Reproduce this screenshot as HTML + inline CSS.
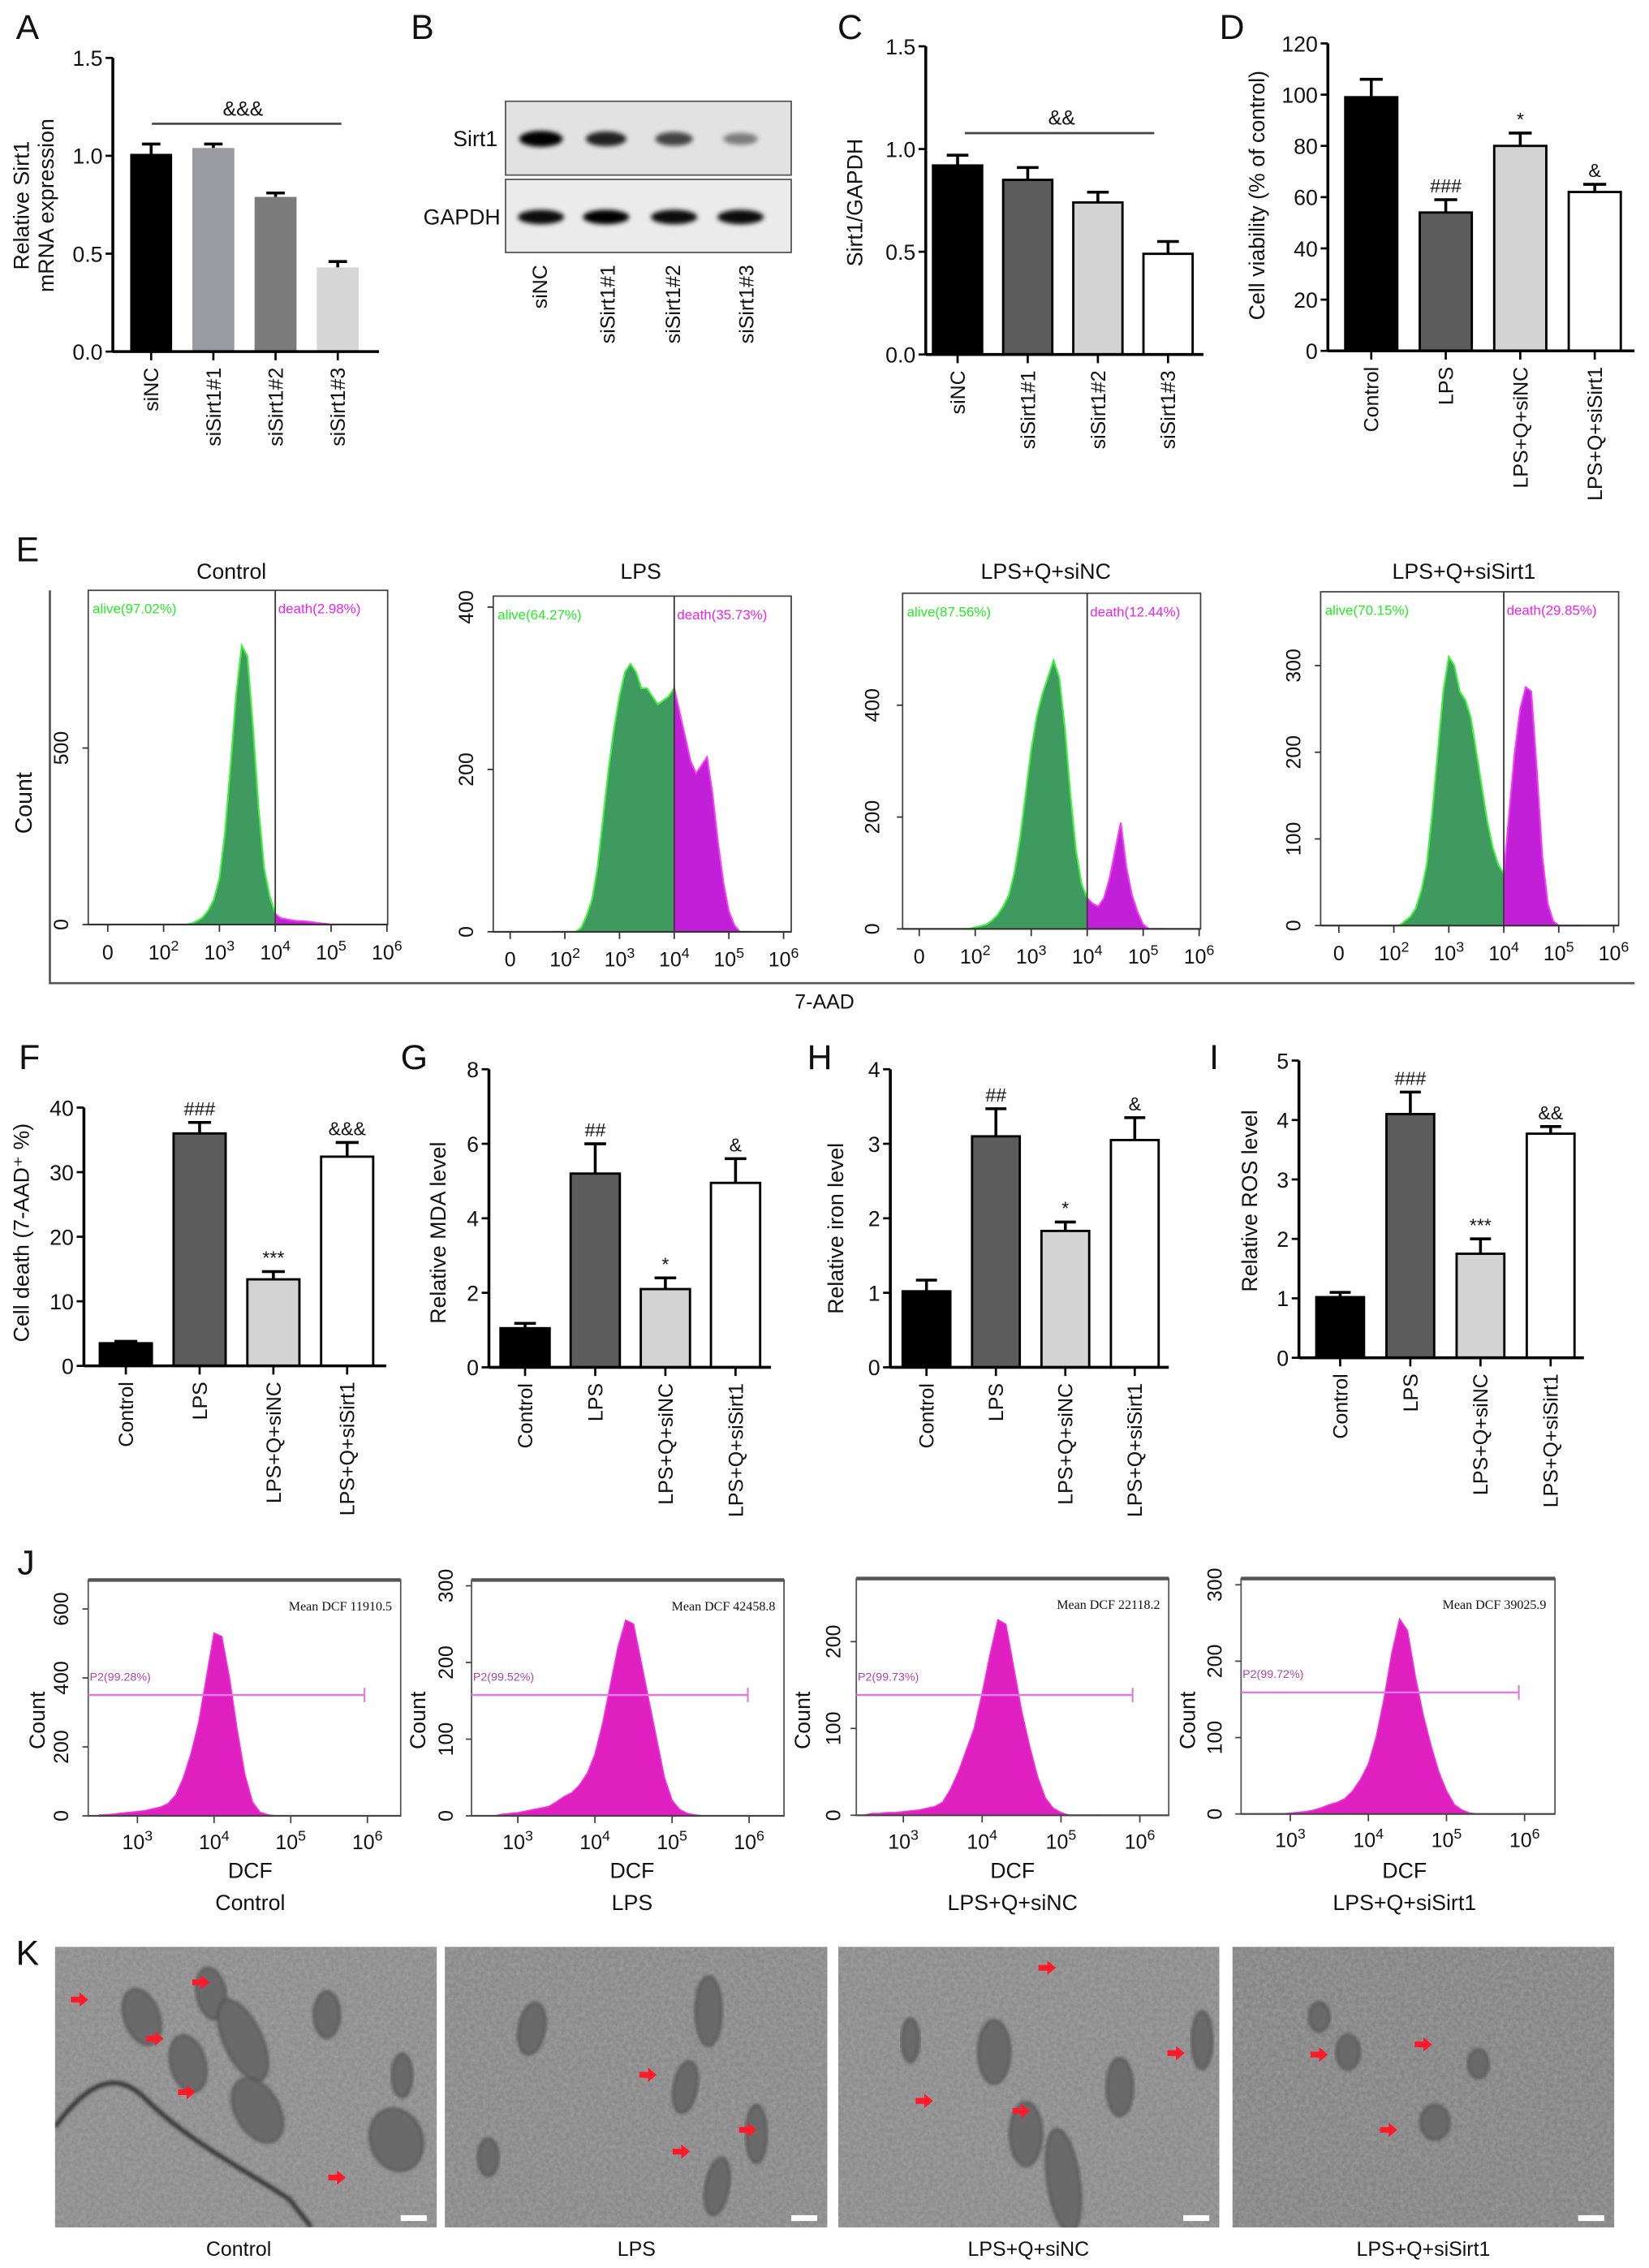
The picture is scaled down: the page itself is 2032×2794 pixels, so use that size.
<!DOCTYPE html>
<html><head><meta charset="utf-8">
<style>
html,body{margin:0;padding:0;background:#fff;}
svg{display:block;}
text{font-family:"Liberation Sans",sans-serif;fill:#111;}
.n{font-family:"Liberation Sans Narrow","Liberation Sans",sans-serif;}
.lt{font-size:24px;}
</style></head>
<body>
<svg id="fig" xmlns="http://www.w3.org/2000/svg" width="2032" height="2794" viewBox="0 0 1140 1567.5">
<defs>
<filter id="blur1" x="-30%" y="-80%" width="160%" height="260%"><feGaussianBlur stdDeviation="1.6"/></filter>
<filter id="noise" x="0" y="0" width="100%" height="100%">
<feTurbulence type="fractalNoise" baseFrequency="0.35" numOctaves="2" seed="3" result="t"/>
<feColorMatrix type="matrix" values="0 0 0 0 0.5  0 0 0 0 0.5  0 0 0 0 0.5  0 0 0 1.1 -0.25"/>
</filter>
<filter id="soft"><feGaussianBlur stdDeviation="1.2"/></filter>
<clipPath id="kc0"><rect x="38" y="1345.5" width="264" height="194"/></clipPath>
<clipPath id="kc1"><rect x="307.5" y="1345.5" width="264.5" height="194"/></clipPath>
<clipPath id="kc2"><rect x="579.5" y="1345.5" width="263.5" height="194"/></clipPath>
<clipPath id="kc3"><rect x="852" y="1345.5" width="264" height="194"/></clipPath>
</defs>
<rect width="1140" height="1567.5" fill="#fff"/>
<text class="lt" x="11" y="27">A</text>
<text class="lt" x="284" y="27">B</text>
<text class="lt" x="579" y="27">C</text>
<text class="lt" x="843" y="27">D</text>
<text class="lt" x="11" y="388">E</text>
<text class="lt" x="13" y="739">F</text>
<text class="lt" x="277" y="739">G</text>
<text class="lt" x="558" y="739">H</text>
<text class="lt" x="836" y="739">I</text>
<text class="lt" x="12" y="1088">J</text>
<text class="lt" x="11" y="1358">K</text>

<g>
<rect x="349.5" y="70" width="197.5" height="51" fill="#e2e2e2" stroke="#555" stroke-width="1"/>
<rect x="349.5" y="124" width="197.5" height="50.5" fill="#ebebeb" stroke="#555" stroke-width="1"/>
<text class="n" x="344" y="101" font-size="15" text-anchor="end">Sirt1</text>
<text class="n" x="346" y="155" font-size="15" text-anchor="end">GAPDH</text>
<g id="bands" filter="url(#blur1)"></g>
</g>

<path d="M34.5 408 V679.5 H1130" fill="none" stroke="#555" stroke-width="1.5"/>
<text x="22" y="555" font-size="16" text-anchor="middle" transform="rotate(-90 22 555)">Count</text>
<text x="570" y="697" font-size="14" text-anchor="middle">7-AAD</text>
<text x="160" y="400" font-size="15" class="n" text-anchor="middle">Control</text>
<text x="443" y="400" font-size="15" class="n" text-anchor="middle">LPS</text>
<text x="723" y="400" font-size="15" class="n" text-anchor="middle">LPS+Q+siNC</text>
<text x="1012" y="400" font-size="15" class="n" text-anchor="middle">LPS+Q+siSirt1</text>

<g>
<text x="173" y="1298" font-size="15" class="n" text-anchor="middle">DCF</text>
<text x="437" y="1298" font-size="15" class="n" text-anchor="middle">DCF</text>
<text x="700" y="1298" font-size="15" class="n" text-anchor="middle">DCF</text>
<text x="971" y="1298" font-size="15" class="n" text-anchor="middle">DCF</text>
<text x="173" y="1320" font-size="15" class="n" text-anchor="middle">Control</text>
<text x="437" y="1320" font-size="15" class="n" text-anchor="middle">LPS</text>
<text x="700" y="1320" font-size="15" class="n" text-anchor="middle">LPS+Q+siNC</text>
<text x="971" y="1320" font-size="15" class="n" text-anchor="middle">LPS+Q+siSirt1</text>
</g>

<g id="kimgs"></g>
<text x="165" y="1559" font-size="14" class="n" text-anchor="middle">Control</text>
<text x="440" y="1559" font-size="14" class="n" text-anchor="middle">LPS</text>
<text x="711" y="1559" font-size="14" class="n" text-anchor="middle">LPS+Q+siNC</text>
<text x="984" y="1559" font-size="14" class="n" text-anchor="middle">LPS+Q+siSirt1</text>
</svg>
<script>
const NS='http://www.w3.org/2000/svg';
const S=document.getElementById('fig');
function mk(tag,attrs,name,parent){
  const el=document.createElementNS(NS,tag);
  for(const k in attrs){el.setAttribute(k,attrs[k]);}
  
  
  (parent||S).appendChild(el);
  return el;
}

const catsSi=['siNC','siSirt1#1','siSirt1#2','siSirt1#3'];
const catsTreat=['Control','LPS','LPS+Q+siNC','LPS+Q+siSirt1'];

const aVals=[1.01,1.04,0.79,0.43];
const aErrs=[0.05,0.02,0.02,0.03];
const aSig=['','','',''];
const aTicks=[0,0.5,1.0,1.5];
const aTickLabels=['0.0','0.5','1.0','1.5'];

const cVals=[0.92,0.85,0.74,0.49];
const cErrs=[0.05,0.06,0.05,0.06];
const cSig=['','','',''];
const cTicks=[0,0.5,1.0,1.5];
const cTickLabels=['0.0','0.5','1.0','1.5'];

const dVals=[99,54,80,62];
const dErrs=[7,5,5,3];
const dSig=['','###','*','&'];
const dTicks=[0,20,40,60,80,100,120];
const dTickLabels=['0','20','40','60','80','100','120'];

const fVals=[3.5,36,13.4,32.4];
const fErrs=[0.3,1.7,1.2,2.2];
const fSig=['','###','***','&&&'];
const fTicks=[0,10,20,30,40];
const fTickLabels=['0','10','20','30','40'];

const gVals=[1.05,5.2,2.1,4.95];
const gErrs=[0.13,0.8,0.3,0.65];
const gSig=['','##','*','&'];
const gTicks=[0,2,4,6,8];
const gTickLabels=['0','2','4','6','8'];

const hVals=[1.02,3.1,1.83,3.05];
const hErrs=[0.15,0.37,0.12,0.3];
const hSig=['','##','*','&'];
const hTicks=[0,1,2,3,4];
const hTickLabels=['0','1','2','3','4'];

const iVals=[1.02,4.1,1.75,3.77];
const iErrs=[0.08,0.37,0.25,0.12];
const iSig=['','###','***','&&'];
const iTicks=[0,1,2,3,4,5];
const iTickLabels=['0','1','2','3','4','5'];

const colsA=['#000','#9a9aa3','#7b7b7b','#d6d6d6'];
const colsB=['#000','#5c5c5c','#d3d3d3','#fff'];

function barChart(id,L,cats,vals,errs,sig,ticks,tickLabels,cols,outline){
  const g=mk('g',{},id+'-chart');
  const ys=v=>L.y0-v/L.max*(L.y0-L.y1);
  mk('line',{x1:L.ax,y1:L.y0,x2:L.ax,y2:L.y1,stroke:'#000','stroke-width':2},id+'-y-axis',g);
  ticks.forEach((t,i)=>{
    const y=ys(t);
    mk('line',{x1:L.ax-5,y1:y,x2:L.ax,y2:y,stroke:'#000','stroke-width':1.5},id+'-y-tick',g);
    const tx=mk('text',{x:L.ax-7,y:y+5.5,'font-size':15,'text-anchor':'end',class:'n'},id+'-y-tick-label',g);
    tx.textContent=tickLabels[i];
  });
  vals.forEach((v,i)=>{
    const x=L.left+i*L.step, cx=x+L.w/2, yt=ys(v), ye=ys(v+errs[i]);
    mk('line',{x1:cx,y1:yt,x2:cx,y2:ye,stroke:'#000','stroke-width':2},id+'-error-bar',g);
    mk('line',{x1:cx-L.w*0.22,y1:ye,x2:cx+L.w*0.22,y2:ye,stroke:'#000','stroke-width':2},id+'-error-cap',g);
    mk('rect',{x:x,y:yt,width:L.w,height:L.y0-yt,fill:cols[i],stroke:outline?'#000':'none','stroke-width':1.6},id+'-bar-'+i,g);
    mk('line',{x1:cx,y1:L.y0,x2:cx,y2:L.y0+6,stroke:'#000','stroke-width':1.5},id+'-x-tick',g);
    const lx=cx+5, ly=L.y0+11;
    const t=mk('text',{x:lx,y:ly,'font-size':14,'text-anchor':'end',transform:'rotate(-90 '+lx+' '+ly+')'},id+'-x-label',g);
    t.textContent=cats[i];
    if(sig[i]){
      const s=mk('text',{x:cx,y:ye-5,'font-size':13,'text-anchor':'middle',class:'n',fill:'#333'},id+'-significance',g);
      s.textContent=sig[i];
    }
  });
  mk('line',{x1:L.ax,y1:L.y0,x2:L.xEnd,y2:L.y0,stroke:'#000','stroke-width':2},id+'-x-axis',g);
  const yt=mk('text',{x:L.tx,y:L.ty,'font-size':L.tfs||15,'text-anchor':'middle',transform:'rotate(-90 '+L.tx+' '+L.ty+')'},id+'-y-axis-title',g);
  L.title.forEach((line,k)=>{
    const ts=mk('tspan',{x:L.tx,dy:k?17:0},id+'-y-title-line',yt);
    ts.textContent=line;
  });
  return {g,ys};
}

const A=barChart('a',{ax:78,y0:243,y1:40,max:1.5,left:90,step:43,w:29,xEnd:262,tx:20,ty:142,title:['Relative Sirt1','mRNA expression']},catsSi,aVals,aErrs,aSig,aTicks,aTickLabels,colsA,false);
mk('line',{x1:105,y1:85.5,x2:236,y2:85.5,stroke:'#444','stroke-width':1.5},'a-significance-line',A.g);
const aS=mk('text',{x:168,y:80,'font-size':14,'text-anchor':'middle',class:'n'},'a-significance',A.g);
aS.textContent='&&&';

const C=barChart('c',{ax:640,y0:245,y1:32,max:1.5,left:645,step:48.5,w:34,xEnd:832,tx:596,ty:140,title:['Sirt1/GAPDH']},catsSi,cVals,cErrs,cSig,cTicks,cTickLabels,colsB,true);
mk('line',{x1:667,y1:92,x2:798,y2:92,stroke:'#444','stroke-width':1.5},'c-significance-line',C.g);
const cS=mk('text',{x:734,y:86,'font-size':14,'text-anchor':'middle',class:'n'},'c-significance',C.g);
cS.textContent='&&';

barChart('d',{ax:918,y0:242.5,y1:30,max:120,left:930,step:51.5,w:36,xEnd:1130,tx:874,ty:135,title:['Cell viability (% of control)']},catsTreat,dVals,dErrs,dSig,dTicks,dTickLabels,colsB,true);
barChart('f',{ax:58,y0:944,y1:765.5,max:40,left:69,step:51,w:36,xEnd:267,tx:20,ty:852,title:['Cell death (7-AAD⁺ %)']},catsTreat,fVals,fErrs,fSig,fTicks,fTickLabels,colsB,true);
barChart('g',{ax:338,y0:945,y1:739,max:8,left:346,step:48.5,w:34,xEnd:533,tx:308,ty:852,title:['Relative MDA level']},catsTreat,gVals,gErrs,gSig,gTicks,gTickLabels,colsB,true);
barChart('h',{ax:615.5,y0:945,y1:739,max:4,left:624,step:48,w:33,xEnd:808,tx:583,ty:849,title:['Relative iron level']},catsTreat,hVals,hErrs,hSig,hTicks,hTickLabels,colsB,true);
barChart('i',{ax:898,y0:938.4,y1:733,max:5,left:910,step:48.5,w:33,xEnd:1095,tx:869,ty:830,title:['Relative ROS level']},catsTreat,iVals,iErrs,iSig,iTicks,iTickLabels,colsB,true);

const blotLanes=['siNC','siSirt1#1','siSirt1#2','siSirt1#3'];
const sirt1Intensity=[1.0,0.85,0.7,0.45];
const gapdhIntensity=[0.95,1.0,0.95,0.95];
const laneX=[374,419,466,512];
const bandG=document.getElementById('bands');
blotLanes.forEach((ln,i)=>{
  mk('ellipse',{cx:laneX[i],cy:96,rx:15-i,ry:3+2.5*sirt1Intensity[i],fill:'#000','fill-opacity':sirt1Intensity[i]},'band-sirt1-'+i,bandG);
  mk('ellipse',{cx:laneX[i],cy:150,rx:16,ry:5,fill:'#000','fill-opacity':gapdhIntensity[i]},'band-gapdh-'+i,bandG);
  const lx=[378,425,470,521][i], ly=183;
  const t=mk('text',{x:lx,y:ly,'font-size':14,'text-anchor':'end',transform:'rotate(-90 '+lx+' '+ly+')'},'blot-lane-label',S);
  t.textContent=ln;
});

const eBins=[0.8,0.9,1.0,1.1,1.2,1.3,1.4,1.5,1.6,1.7,1.8,1.9,2.0,2.1,2.2,2.3,2.4,2.5,2.6,2.7,2.8,2.9,3.0,3.1,3.2,3.3,3.4,3.5,3.6,3.7,3.8,3.9,4.0,4.1,4.2,4.3,4.4];
const eControl=[0,0,0,0,0,0,0,3,10,20,40,70,130,260,450,650,790,760,560,330,160,80,30,18,15,12,10,10,8,6,4,2,0,0,0,0,0];
const eLPS=[0,0,0,0,0,5,20,40,80,140,200,250,290,320,330,320,300,300,290,280,285,290,300,270,240,210,195,205,215,170,110,60,25,8,0,0,0];
const eSiNC=[0,0,3,5,8,15,25,40,60,100,160,240,320,380,420,450,480,450,360,240,140,80,55,45,40,55,90,140,190,110,60,30,8,0,0,0,0];
const eSiSirt1=[0,0,0,0,5,10,20,40,70,130,200,270,310,300,270,260,240,200,160,120,90,70,60,130,200,250,275,270,180,80,25,5,0,0,0,0,0];
const eAlive=['alive(97.02%)','alive(64.27%)','alive(87.56%)','alive(70.15%)'];
const eDeath=['death(2.98%)','death(35.73%)','death(12.44%)','death(29.85%)'];
const eXTickVals=[0,1,2,3,4,5];
const eXTickExp=['','2','3','4','5','6'];
const eYTicks=[[0,500],[0,200,400],[0,200,400],[0,100,200,300]];
const eGate=3.0;
const eLayout=[
 {bl:61,br:268,bt:408,bb:644,z:639,x0:74.5,dx:38.6,py:0.244,lx:47},
 {bl:341,br:547,bt:412,bb:646,z:644,x0:352.7,dx:37.8,py:0.561,lx:327},
 {bl:624,br:830,bt:410,bb:645,z:642,x0:635.5,dx:38.7,py:0.3865,lx:608},
 {bl:913,br:1119,bt:409,bb:642,z:639.7,x0:925.6,dx:38,py:0.599,lx:899}];
[eControl,eLPS,eSiNC,eSiSirt1].forEach((counts,k)=>{
  const L=eLayout[k];
  const g=mk('g',{},'e-histogram-'+k);
  const xs=u=>L.x0+u*L.dx, ys=c=>L.z-c*L.py;
  mk('rect',{x:L.bl,y:L.bt,width:L.br-L.bl,height:L.z-L.bt,fill:'#fff',stroke:'#444','stroke-width':1},'e-plot-box',g);
  let gp='M'+xs(eBins[0])+' '+L.z, mp='M'+xs(eGate)+' '+L.z;
  eBins.forEach((b,i)=>{
    if(b<=eGate+1e-9) gp+=' L'+xs(b)+' '+ys(counts[i]);
    if(b>=eGate-1e-9) mp+=' L'+xs(b)+' '+ys(counts[i]);
  });
  gp+=' L'+xs(eGate)+' '+L.z+' Z';
  mp+=' L'+xs(eBins[eBins.length-1])+' '+L.z+' Z';
  mk('path',{d:gp,fill:'#3f9a5f',stroke:'#3cf03c','stroke-width':1.2},'e-alive-area',g);
  mk('path',{d:mp,fill:'#c21fd8',stroke:'#f23cf2','stroke-width':1.2},'e-death-area',g);
  mk('line',{x1:xs(eGate),y1:L.bt,x2:xs(eGate),y2:L.z,stroke:'#333','stroke-width':1},'e-gate-line',g);
  mk('line',{x1:L.bl,y1:L.z,x2:L.br,y2:L.z,stroke:'#333','stroke-width':1.2},'e-x-axis',g);
  eXTickVals.forEach((u,i)=>{
    mk('line',{x1:xs(u),y1:L.z,x2:xs(u),y2:L.z+5,stroke:'#333','stroke-width':1},'e-x-tick',g);
    const t=mk('text',{x:xs(u),y:L.z+24,'font-size':14,'text-anchor':'middle',class:'n'},'e-x-tick-label',g);
    if(eXTickExp[i]){t.textContent='10';const sp=mk('tspan',{dy:-6,'font-size':10},'e-x-tick-exp',t);sp.textContent=eXTickExp[i];}
    else t.textContent='0';
  });
  eYTicks[k].forEach(v=>{
    const y=ys(v);
    mk('line',{x1:L.bl-4,y1:y,x2:L.bl,y2:y,stroke:'#333','stroke-width':1},'e-y-tick',g);
    const t=mk('text',{x:L.lx,y:y,'font-size':14,'text-anchor':'middle',transform:'rotate(-90 '+L.lx+' '+y+')'},'e-y-tick-label',g);
    t.textContent=String(v);
  });
  const a=mk('text',{x:L.bl+3,y:L.bt+16,'font-size':9.5,class:'n'},'e-alive-label',g);
  a.textContent=eAlive[k];
  a.style.fill='#22ee22';
  const d=mk('text',{x:xs(eGate)+2,y:L.bt+16,'font-size':9.5,class:'n'},'e-death-label',g);
  d.textContent=eDeath[k];
  d.style.fill='#ee22ee';
});

const jBins=[2.5,2.6,2.7,2.8,2.9,3.0,3.1,3.2,3.3,3.4,3.5,3.6,3.7,3.8,3.9,4.0,4.1,4.2,4.3,4.4,4.5,4.6,4.7,4.8,4.9,5.0,5.1,5.2,5.3,5.4,5.5];
const jControl=[2,3,5,8,10,12,15,20,25,35,60,110,180,270,400,530,520,400,250,120,40,10,3,0,0,0,0,0,0,0,0];
const jLPS=[0,0,0,2,3,4,6,8,10,12,18,25,30,40,55,80,120,170,220,255,250,200,150,100,50,20,8,3,1,0,0];
const jSiNC=[0,2,2,3,3,4,5,6,8,10,15,30,50,75,100,140,185,225,220,170,120,80,45,20,8,3,0,0,0,0,0];
const jSiSirt1=[0,0,0,0,0,1,2,3,5,8,12,15,20,30,45,65,100,150,210,255,240,180,130,90,55,30,12,5,1,0,0];
const jMean=['Mean DCF 11910.5','Mean DCF 42458.8','Mean DCF 22118.2','Mean DCF 39025.9'];
const jGateLbl=['P2(99.28%)','P2(99.52%)','P2(99.73%)','P2(99.72%)'];
const jXTicks=[3,4,5,6];
const jYTicks=[[0,200,400,600],[0,100,200,300],[0,100,200],[0,100,200,300]];
const jLayout=[
 {bl:61,br:277,bt:1092,z:1255,x3:95,dx:53,py:0.2383,gy:1171.5,gr:252,lx:47,cx:31},
 {bl:326,br:542,bt:1092,z:1255,x3:358,dx:53.3,py:0.53,gy:1171.5,gr:517,lx:313,cx:294},
 {bl:592,br:808,bt:1091,z:1254.6,x3:624.5,dx:54.5,py:0.6,gy:1171.5,gr:783,lx:581,cx:560},
 {bl:858,br:1075,bt:1091,z:1253.7,x3:892,dx:54,py:0.528,gy:1169.7,gr:1050,lx:844.5,cx:826}];
[jControl,jLPS,jSiNC,jSiSirt1].forEach((counts,k)=>{
  const L=jLayout[k];
  const g=mk('g',{},'j-histogram-'+k);
  const xs=v=>L.x3+(v-3)*L.dx, ys=c=>L.z-c*L.py;
  mk('rect',{x:L.bl,y:L.bt,width:L.br-L.bl,height:L.z-L.bt,fill:'#fff',stroke:'#555','stroke-width':1},'j-plot-box',g);
  mk('line',{x1:L.bl,y1:L.bt,x2:L.br,y2:L.bt,stroke:'#555','stroke-width':2.5},'j-top-border',g);
  let p='M'+xs(jBins[0])+' '+L.z;
  jBins.forEach((b,i)=>{p+=' L'+xs(b)+' '+ys(counts[i]);});
  p+=' L'+xs(jBins[jBins.length-1])+' '+L.z+' Z';
  mk('path',{d:p,fill:'#e01fc0',stroke:'#f030d8','stroke-width':1},'j-dcf-area',g);
  mk('line',{x1:L.bl,y1:L.gy,x2:L.gr,y2:L.gy,stroke:'#e07ae0','stroke-width':1.4},'j-gate-line',g);
  mk('line',{x1:L.gr,y1:L.gy-5,x2:L.gr,y2:L.gy+5,stroke:'#e07ae0','stroke-width':1.2},'j-gate-end',g);
  const gl=mk('text',{x:L.bl+1,y:L.gy-10,'font-size':8,class:'n'},'j-gate-label',g);
  gl.textContent=jGateLbl[k];
  gl.style.fill='#b040b0';
  const mt=mk('text',{x:L.br-6,y:L.bt+21,'font-size':9,'text-anchor':'end'},'j-mean-dcf',g);
  mt.textContent=jMean[k];
  mt.style.fontFamily='"Liberation Serif",serif';
  mk('line',{x1:L.bl,y1:L.z,x2:L.br,y2:L.z,stroke:'#444','stroke-width':1.2},'j-x-axis',g);
  jXTicks.forEach(v=>{
    mk('line',{x1:xs(v),y1:L.z,x2:xs(v),y2:L.z+5,stroke:'#444','stroke-width':1},'j-x-tick',g);
    const t=mk('text',{x:xs(v),y:L.z+23,'font-size':14,'text-anchor':'middle',class:'n'},'j-x-tick-label',g);
    t.textContent='10';
    const sp=mk('tspan',{dy:-6,'font-size':10},'j-x-tick-exp',t);
    sp.textContent=String(v);
  });
  jYTicks[k].forEach(v=>{
    const y=ys(v);
    mk('line',{x1:L.bl-4,y1:y,x2:L.bl,y2:y,stroke:'#444','stroke-width':1},'j-y-tick',g);
    const t=mk('text',{x:L.lx,y:y,'font-size':14,'text-anchor':'middle',transform:'rotate(-90 '+L.lx+' '+y+')'},'j-y-tick-label',g);
    t.textContent=String(v);
  });
  const ct=mk('text',{x:L.cx,y:1189,'font-size':15,'text-anchor':'middle',transform:'rotate(-90 '+L.cx+' 1189)'},'j-y-axis-title',g);
  ct.textContent='Count';
});

const kPanels=[{x:38,w:264},{x:307.5,w:264.5},{x:579.5,w:263.5},{x:852,w:264}];
const kTone=['#8e8e8e','#8a8a8a','#8d8d8d','#858585'];
const kMito=[
 [[60,60,12,20,-20],[108,40,10,18,-10],[92,100,12,20,-15],[130,80,13,30,-25],[140,140,15,24,-30],[188,58,9,16,0],[236,165,18,22,-20],[240,110,7,15,0]],
 [[182,55,9,24,0],[166,120,8,18,10],[188,205,8,20,10],[215,160,7,20,0],[30,180,7,13,0],[60,70,9,18,10]],
 [[108,90,11,22,0],[130,160,11,22,0],[156,200,11,36,-8],[195,120,9,20,0],[252,80,7,20,0],[50,80,6,15,0]],
 [[60,60,7,10,0],[80,90,8,12,0],[140,150,10,12,0],[170,100,7,10,0]]];
const kArrows=[
 [[58,1382],[142,1370],[110,1409],[132,1446],[236,1505]],
 [[451,1434],[520,1472],[474,1487]],
 [[727,1360],[816,1419],[642,1452],[709,1459]],
 [[987,1413],[915,1420],[963,1472]]];
const kG=document.getElementById('kimgs');
kPanels.forEach((p,k)=>{
  const g=mk('g',{'clip-path':'url(#kc'+k+')'},'em-image-'+k,kG);
  mk('rect',{x:p.x,y:1345.5,width:p.w,height:194,fill:kTone[k]},'em-background',g);
  mk('rect',{x:p.x,y:1345.5,width:p.w,height:194,fill:'#000',filter:'url(#noise)',opacity:0.5},'em-texture',g);
  kMito[k].forEach(m=>{
    const cx=p.x+m[0]*p.w/264, cy=1345.5+m[1]*194/240;
    mk('ellipse',{cx:cx,cy:cy,rx:m[2],ry:m[3],fill:'#6a6a6a',stroke:'#444','stroke-width':1.2,transform:'rotate('+m[4]+' '+cx+' '+cy+')',filter:'url(#soft)'},'mitochondrion',g);
  });
  if(k===0){
    mk('path',{d:'M38 1470 C60 1440 80 1430 100 1450 C130 1480 170 1500 200 1520 L215 1539',fill:'none',stroke:'#333','stroke-width':3,filter:'url(#soft)'},'nucleus-membrane',g);
  }
  mk('rect',{x:p.x+p.w-25,y:1531,width:18,height:4,fill:'#fff'},'scale-bar',g);
  kArrows[k].forEach(a=>{
    mk('path',{d:'M'+(a[0]-9)+' '+(a[1]-2)+' h6 v-3 l6 5 l-6 5 v-3 h-6 z',fill:'#ff1a2a'},'red-arrow',g);
  });
});
</script>
</body></html>
